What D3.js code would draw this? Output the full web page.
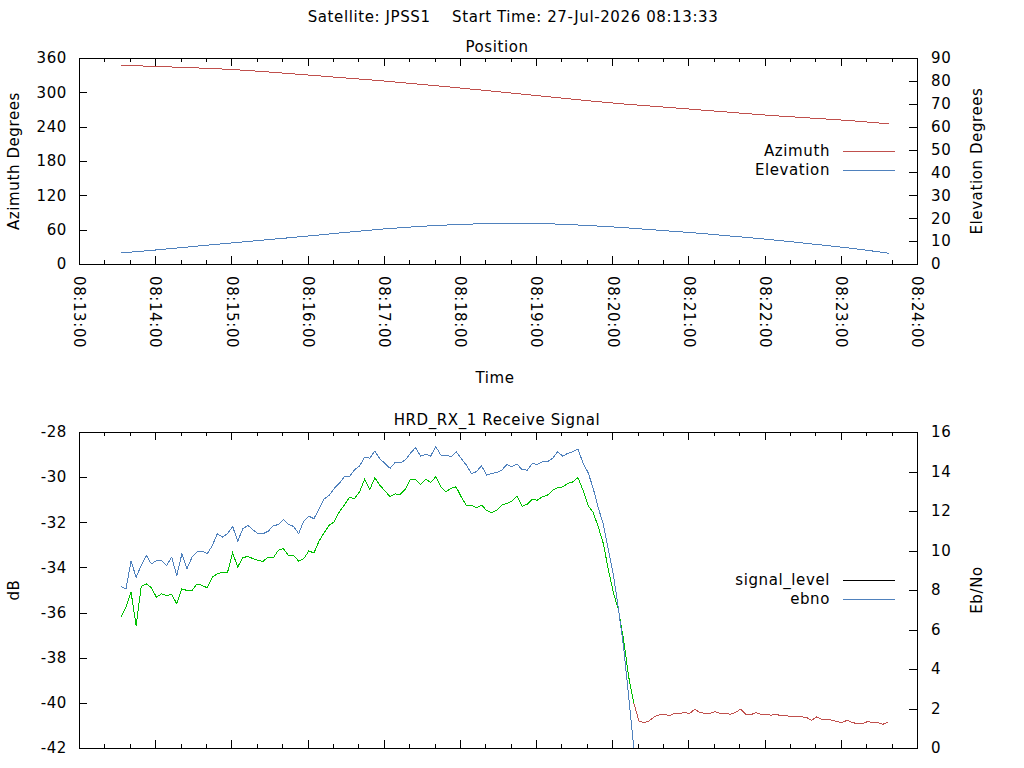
<!DOCTYPE html>
<html>
<head>
<meta charset="utf-8">
<script src="https://cdn.jsdelivr.net/npm/d3@7"></script>
<style>
    body { margin: 0; background: #fff; }
    svg text { font-family: 'DejaVu Sans', sans-serif; font-size: 15px; fill: #000; letter-spacing: 0.6px; }
    .tick line, .frame, .series { shape-rendering: crispEdges; }
</style>
</head>
<body>
<svg id="chart" width="1024" height="768"></svg>
<script>
const parseTime = d3.timeParse('%H:%M:%S')

const mainTitle = 'Satellite: JPSS1    Start Time: 27-Jul-2026 08:13:33'
const timeDomain = ['08:13:00', '08:24:00']

// position panel
const posTimes = ['08:13:33', '08:14:00', '08:15:00', '08:16:00', '08:17:00', '08:18:00',
    '08:19:00', '08:20:00', '08:21:00', '08:22:00', '08:23:00', '08:23:38']
const azimuth = [347.6, 345.2, 339.9, 330.3, 319.8, 307.6, 294.5, 281.4, 270.9, 260.4, 251.7, 244.7]
const elevation = [4.8, 6.1, 9.2, 12.2, 15.3, 17.3, 17.7, 16.2, 13.8, 10.9, 7.4, 4.7]
const azTicks = [0, 60, 120, 180, 240, 300, 360]
const elTicks = [0, 10, 20, 30, 40, 50, 60, 70, 80, 90]

// receive signal panel, one sample every 4 s
const sampleStart = '08:13:33'
const sampleStep = 4
const lockLost = '08:20:17'
const signalLevel = [
    -36.21, -35.76, -35.10, -36.58, -34.84, -34.73, -34.90, -35.32, -35.17, -35.24,
    -35.20, -35.61, -34.95, -35.02, -35.02, -34.73, -34.80, -34.90, -34.43, -34.28,
    -34.21, -34.21, -33.36, -33.98, -33.57, -33.51, -33.61, -33.69, -33.73, -33.54,
    -33.58, -33.24, -33.17, -33.47, -33.47, -33.72, -33.61, -33.27, -33.36, -32.84,
    -32.47, -32.13, -31.98, -31.54, -31.24, -30.89, -30.95, -30.65, -30.09, -30.55,
    -30.03, -30.36, -30.62, -30.86, -30.74, -30.77, -30.53, -30.10, -30.10, -30.33,
    -30.09, -30.24, -29.98, -30.43, -30.65, -30.50, -30.43, -30.87, -31.24, -31.24,
    -31.36, -31.24, -31.47, -31.57, -31.47, -31.24, -31.17, -31.07, -30.84, -31.29,
    -31.20, -30.98, -31.02, -30.87, -30.80, -30.58, -30.47, -30.43, -30.28, -30.21,
    -30.02, -30.58, -31.27, -31.57, -32.21, -32.95, -34.13, -35.14, -35.91, -37.24,
    -38.87, -40.01, -40.80, -40.87, -40.80, -40.62, -40.53, -40.50, -40.58, -40.47,
    -40.47, -40.43, -40.47, -40.28, -40.43, -40.46, -40.47, -40.39, -40.47, -40.47,
    -40.50, -40.43, -40.28, -40.50, -40.53, -40.43, -40.50, -40.50, -40.55, -40.50,
    -40.58, -40.58, -40.59, -40.62, -40.62, -40.65, -40.77, -40.62, -40.73, -40.73,
    -40.77, -40.83, -40.87, -40.77, -40.87, -40.92, -40.92, -40.83, -40.87, -40.87,
    -40.95, -40.87
]
const ebno = [
    8.17, 8.05, 9.46, 8.65, 9.24, 9.75, 9.32, 9.49, 9.49, 9.24,
    9.66, 8.73, 9.83, 9.07, 9.66, 9.92, 9.97, 9.83, 10.25, 10.85,
    10.68, 10.85, 11.22, 10.47, 11.10, 11.27, 11.05, 10.85, 10.85, 10.98,
    11.24, 11.32, 11.56, 11.32, 11.22, 10.85, 11.49, 11.74, 11.61, 12.09,
    12.60, 12.80, 13.14, 13.40, 13.73, 13.73, 14.09, 14.28, 14.73, 14.67,
    15.04, 14.63, 14.41, 14.16, 14.46, 14.44, 14.58, 14.92, 15.21, 14.78,
    14.87, 14.78, 15.26, 14.83, 14.83, 14.75, 15.00, 14.67, 14.33, 13.90,
    13.99, 14.29, 13.82, 13.90, 13.95, 14.07, 14.36, 14.24, 14.38, 14.09,
    14.07, 14.41, 14.36, 14.50, 14.50, 14.67, 15.00, 14.78, 14.92, 15.00,
    15.14, 14.41, 13.94, 13.14, 12.16, 11.31, 10.01, 8.74, 6.96, 5.08,
    2.54, 0
]
const dbTicks = [-42, -40, -38, -36, -34, -32, -30, -28]
const ebTicks = [0, 2, 4, 6, 8, 10, 12, 14, 16]

const red = '#c0504d'
const blue = '#4f81bd'
const green = '#00c000'

const svg = d3.select('#chart')

const x = d3.scaleTime()
    .domain(timeDomain.map(parseTime))
    .range([79, 917])

const yAz = d3.scaleLinear().domain([0, 360]).range([264, 58])
const yEl = d3.scaleLinear().domain([0, 90]).range([264, 58])
const yDb = d3.scaleLinear().domain([-42, -28]).range([748, 432])
const yEb = d3.scaleLinear().domain([0, 16]).range([748, 432])

// plain hyphen for negatives, like the original plot
const plain = d => String(d)

function drawPanel (yLeft, yRight, leftTicks, rightTicks, timeLabels) {
    const top = yLeft.range()[1]
    const bottom = yLeft.range()[0]
    const g = svg.append('g')

    // time ticks, minor every 20 s, major every minute, bottom and top
    for (const side of ['bottom', 'top']) {
        const axis = side === 'bottom' ? d3.axisBottom : d3.axisTop
        const yPos = side === 'bottom' ? bottom : top
        g.append('g')
            .attr('transform', `translate(0,${yPos})`)
            .call(axis(x).ticks(d3.timeSecond.every(20)).tickSize(-4).tickFormat(''))
            .call(a => a.select('.domain').remove())
        const major = g.append('g')
            .attr('transform', `translate(0,${yPos})`)
            .call(axis(x).ticks(d3.timeMinute.every(1)).tickSize(-8)
                .tickFormat(side === 'bottom' && timeLabels ? d3.timeFormat('%H:%M:%S') : ''))
            .call(a => a.select('.domain').remove())
        if (side === 'bottom' && timeLabels) {
            major.selectAll('text')
                .attr('transform', 'rotate(90)')
                .attr('text-anchor', 'start')
                .attr('x', 12)
                .attr('y', 0)
                .attr('dy', '0.35em')
        }
    }

    g.append('g')
        .attr('transform', `translate(${x.range()[0]},0)`)
        .call(d3.axisLeft(yLeft).tickValues(leftTicks).tickFormat(plain).tickSize(-8).tickPadding(12))
        .call(a => a.select('.domain').remove())

    g.append('g')
        .attr('transform', `translate(${x.range()[1]},0)`)
        .call(d3.axisRight(yRight).tickValues(rightTicks).tickFormat(plain).tickSize(-8).tickPadding(14))
        .call(a => a.select('.domain').remove())

    g.selectAll('.tick text').style('font-size', '15px').style('font-family', '\'DejaVu Sans\', sans-serif')

    g.append('rect')
        .attr('class', 'frame')
        .attr('x', x.range()[0])
        .attr('y', top)
        .attr('width', x.range()[1] - x.range()[0])
        .attr('height', bottom - top)
        .attr('fill', 'none')
        .attr('stroke', '#000')

    return g
}

function addLabel (text, cx, cy, rotate) {
    svg.append('text')
        .attr('transform', `translate(${cx},${cy})` + (rotate ? ' rotate(-90)' : ''))
        .attr('text-anchor', 'middle')
        .attr('dy', '0.35em')
        .style('white-space', 'pre')
        .text(text)
}

function addLegend (entries, y0) {
    entries.forEach((e, i) => {
        const yy = y0 + i * 19.5
        svg.append('text')
            .attr('x', 830)
            .attr('y', yy)
            .attr('dy', '0.35em')
            .attr('text-anchor', 'end')
            .text(e[0])
        svg.append('line')
            .attr('class', 'frame')
            .attr('x1', 843)
            .attr('x2', 895)
            .attr('y1', yy + 0.5)
            .attr('y2', yy + 0.5)
            .attr('stroke', e[1])
    })
}

function addClip (id, yScale) {
    svg.append('clipPath').attr('id', id)
        .append('rect')
        .attr('x', x.range()[0])
        .attr('y', yScale.range()[1])
        .attr('width', x.range()[1] - x.range()[0])
        .attr('height', yScale.range()[0] - yScale.range()[1])
}

// titles
addLabel(mainTitle, 513, 17)
addLabel('Position', 497, 46.5)
addLabel('HRD_RX_1 Receive Signal', 497, 420)

// position panel
drawPanel(yAz, yEl, azTicks, elTicks, true)
addLabel('Azimuth Degrees', 14, 161, true)
addLabel('Elevation Degrees', 977, 161, true)
addLabel('Time', 495, 378)
addClip('clipTop', yAz)

const posData = posTimes.map((t, i) => ({ t: parseTime(t), az: azimuth[i], el: elevation[i] }))

svg.append('path')
    .datum(posData)
    .attr('class', 'series')
    .attr('clip-path', 'url(#clipTop)')
    .attr('fill', 'none')
    .attr('stroke', red)
    .attr('d', d3.line().curve(d3.curveNatural).x(d => x(d.t)).y(d => yAz(d.az)))

svg.append('path')
    .datum(posData)
    .attr('class', 'series')
    .attr('clip-path', 'url(#clipTop)')
    .attr('fill', 'none')
    .attr('stroke', blue)
    .attr('d', d3.line().curve(d3.curveNatural).x(d => x(d.t)).y(d => yEl(d.el)))

addLegend([['Azimuth', red], ['Elevation', blue]], 150.5)

// receive signal panel
drawPanel(yDb, yEb, dbTicks, ebTicks, false)
addLabel('dB', 14, 590, true)
addLabel('Eb/No', 977, 590, true)
addClip('clipBottom', yDb)

const t0 = parseTime(sampleStart)
const tLost = parseTime(lockLost)
const sigData = signalLevel.map((v, i) => ({ t: d3.timeSecond.offset(t0, i * sampleStep), v: v }))
const ebData = ebno.map((v, i) => ({ t: d3.timeSecond.offset(t0, i * sampleStep), v: v }))

const sigLine = d3.line().x(d => x(d.t)).y(d => yDb(d.v))

svg.append('path')
    .datum(sigData.filter(d => d.t <= tLost))
    .attr('class', 'series')
    .attr('clip-path', 'url(#clipBottom)')
    .attr('fill', 'none')
    .attr('stroke', green)
    .attr('d', sigLine)

svg.append('path')
    .datum(sigData.filter(d => d.t >= tLost))
    .attr('class', 'series')
    .attr('clip-path', 'url(#clipBottom)')
    .attr('fill', 'none')
    .attr('stroke', red)
    .attr('d', sigLine)

svg.append('path')
    .datum(ebData)
    .attr('class', 'series')
    .attr('clip-path', 'url(#clipBottom)')
    .attr('fill', 'none')
    .attr('stroke', blue)
    .attr('d', d3.line().x(d => x(d.t)).y(d => yEb(d.v)))

addLegend([['signal_level', '#000'], ['ebno', blue]], 579.5)
</script>
</body>
</html>
